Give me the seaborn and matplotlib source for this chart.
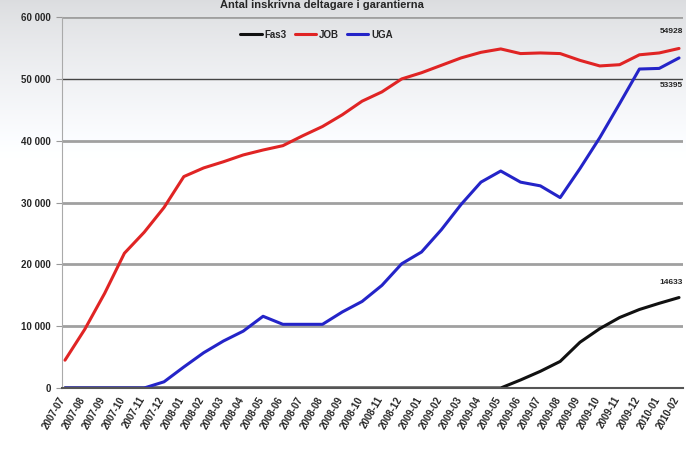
import matplotlib
matplotlib.use("Agg")
import matplotlib.pyplot as plt
import matplotlib.ticker as mticker
import matplotlib.transforms as mtrans
import seaborn as sns
import pandas as pd
import numpy as np

sns.set_style("white")
plt.rcParams['font.family'] = ['Liberation Sans', 'DejaVu Sans']

months = ['2007-07', '2007-08', '2007-09', '2007-10', '2007-11', '2007-12',
          '2008-01', '2008-02', '2008-03', '2008-04', '2008-05', '2008-06',
          '2008-07', '2008-08', '2008-09', '2008-10', '2008-11', '2008-12',
          '2009-01', '2009-02', '2009-03', '2009-04', '2009-05', '2009-06',
          '2009-07', '2009-08', '2009-09', '2009-10', '2009-11', '2009-12',
          '2010-01', '2010-02']

fas3 = [0, 0, 0, 0, 0, 0, 0, 0, 0, 0, 0, 0, 0, 0, 0, 0, 0, 0, 0, 0, 0, 0,
        0, 1300, 2700, 4300, 7400, 9600, 11400, 12700, 13700, 14633]
job = [4500, 9500, 15300, 21800, 25200, 29200, 34200, 35600, 36600, 37700,
       38500, 39200, 40800, 42300, 44200, 46400, 47900, 50000, 51000, 52200,
       53400, 54300, 54850, 54100, 54200, 54100, 53000, 52100, 52300, 53900,
       54200, 54928]
uga = [0, 0, 0, 0, 0, 1000, 3400, 5700, 7600, 9200, 11600, 10300, 10300,
       10300, 12300, 14000, 16600, 20100, 22000, 25600, 29700, 33300, 35100,
       33300, 32700, 30800, 35500, 40500, 46000, 51600, 51700, 53395]

series = {'Fas3': fas3, 'JOB': job, 'UGA': uga}
colors = {'Fas3': '#111111', 'JOB': '#e02424', 'UGA': '#2424c8'}

df = pd.DataFrame([
    {'idx': i, 'month': m, 'serie': name, 'antal': vals[i]}
    for name, vals in series.items() for i, m in enumerate(months)
])

fig = plt.figure(figsize=(6.86, 4.5), dpi=100)

# soft grey background band at the top, like the slide behind the chart
bg = fig.add_axes([0, 0, 1, 1], zorder=-1)
grad = np.linspace(0, 1, 450)
fade = np.clip(grad / 0.35, 0, 1) ** 0.8
shade = 0.86 + 0.14 * fade
bg.imshow(np.dstack([shade, shade + 0.005, shade + 0.015]).clip(0, 1)
          .reshape(450, 1, 3).repeat(686, axis=1), aspect='auto',
          extent=[0, 1, 0, 1])
bg.axis('off')

ax = fig.add_axes([0.0904, 0.1378, 0.9052, 0.8242])
ax.patch.set_alpha(0)

sns.lineplot(data=df, x='idx', y='antal', hue='serie', palette=colors,
             linewidth=2.2, ax=ax)

ax.set_xlim(-0.15, 31.2)
ax.set_ylim(0, 60000)
ax.yaxis.set_major_locator(mticker.MultipleLocator(10000))
ax.yaxis.set_major_formatter(mticker.FuncFormatter(
    lambda v, p: f'{int(v):,}'.replace(',', ' ')))
ax.tick_params(axis='x', length=3, color='#777777', pad=2)
ax.tick_params(axis='y', length=4, color='#999999', pad=4, left=True)
ax.set_xticks(range(len(months)))
ax.set_xticklabels(months, rotation=60, ha='right', rotation_mode='anchor',
                   fontsize=7, fontweight='bold')
for lab in ax.get_yticklabels():
    lab.set_fontsize(7)
    lab.set_fontweight('bold')

for v in range(10000, 60001, 10000):
    if v == 50000:
        ax.axhline(v, color='#444444', lw=1.0, zorder=0)
    else:
        ax.axhline(v, color='#a0a0a0', lw=2.0, zorder=0)

for s in ['top', 'right']:
    ax.spines[s].set_visible(False)
ax.spines['left'].set_color('#aaaaaa')
ax.spines['bottom'].set_color('#555555')
ax.spines['bottom'].set_linewidth(1.5)

ax.set_xlabel('')
ax.set_ylabel('')

leg = ax.legend(loc='upper center', bbox_to_anchor=(0.41, 0.99), ncol=3,
                frameon=False, fontsize=7, handlelength=2.2,
                columnspacing=0.8, handletextpad=0.3)
for t in leg.get_texts():
    t.set_fontweight('bold')
for l in leg.get_lines():
    l.set_linewidth(2.2)

last = len(months) - 1
ax.annotate(f'{job[-1]}', (last, job[-1]), xytext=(-8, 13),
            textcoords='offset pixels', ha='center', va='bottom',
            fontsize=6, fontweight='bold')
ax.annotate(f'{uga[-1]}', (last, uga[-1]), xytext=(-8, -24),
            textcoords='offset pixels', ha='center', va='top',
            fontsize=6, fontweight='bold')
ax.annotate(f'{fas3[-1]}', (last, fas3[-1]), xytext=(-8, 12),
            textcoords='offset pixels', ha='center', va='bottom',
            fontsize=6, fontweight='bold')

fig.text(0.47, 0.999, 'Antal inskrivna deltagare i garantierna',
         ha='center', va='top', fontsize=8, fontweight='bold')

# nudge the rotated month labels a little to the left
shift = mtrans.ScaledTranslation(-6 / 100, 0, fig.dpi_scale_trans)
for lab in ax.xaxis.get_majorticklabels():
    lab.set_transform(lab.get_transform() + shift)

fig.savefig('out.png', dpi=100)
